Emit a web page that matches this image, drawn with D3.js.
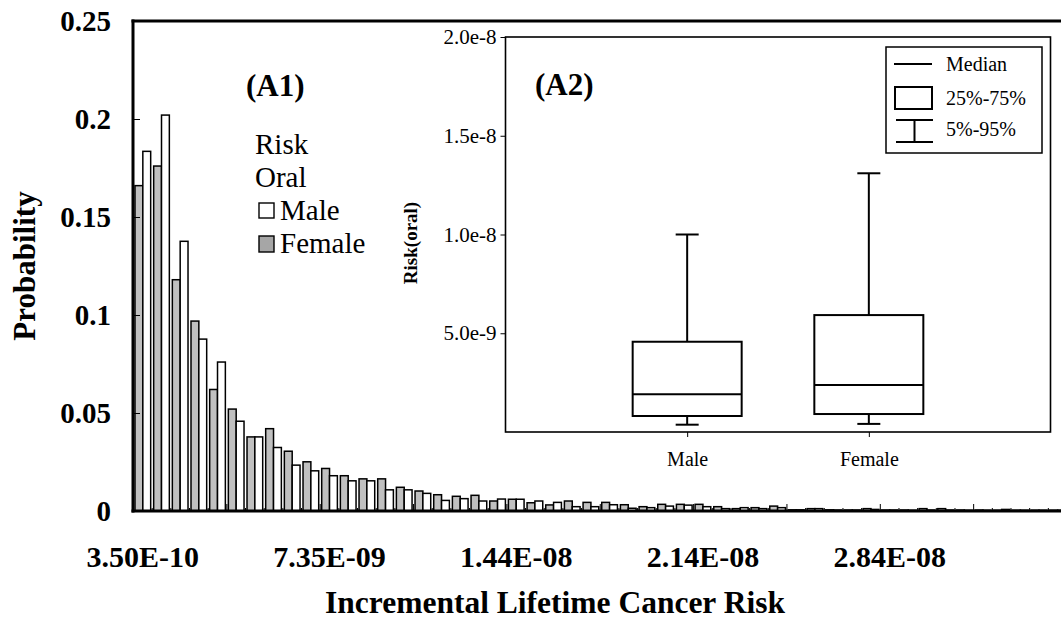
<!DOCTYPE html>
<html><head><meta charset="utf-8">
<script src="https://cdn.jsdelivr.net/npm/d3@7"></script>
<style>
body{margin:0;background:#fff}
svg{display:block}
text{font-family:"Liberation Serif","Times New Roman",serif;fill:#000}
</style>
</head><body>
<svg id="c" width="1061" height="624"></svg>
<script>
// ---- data ----
const categories = ["3.50E-10","1.05E-09","1.75E-09","2.45E-09","3.15E-09","3.85E-09","4.55E-09","5.25E-09","5.95E-09","6.65E-09",
"7.35E-09","8.05E-09","8.75E-09","9.45E-09","1.02E-08","1.09E-08","1.16E-08","1.23E-08","1.30E-08","1.37E-08",
"1.44E-08","1.51E-08","1.58E-08","1.65E-08","1.72E-08","1.79E-08","1.86E-08","1.93E-08","2.00E-08","2.07E-08",
"2.14E-08","2.21E-08","2.28E-08","2.35E-08","2.42E-08","2.49E-08","2.56E-08","2.63E-08","2.70E-08","2.77E-08",
"2.84E-08","2.91E-08","2.98E-08","3.05E-08","3.12E-08","3.19E-08","3.26E-08","3.33E-08","3.40E-08","3.47E-08"];
const female = [0.166,0.176,0.118,0.0969,0.062,0.052,0.0378,0.042,0.0305,0.0251,
0.0217,0.018,0.0164,0.0164,0.0121,0.0102,0.0083,0.0075,0.008,0.0051,
0.006,0.0042,0.0031,0.0051,0.0044,0.0044,0.0032,0.0022,0.0034,0.0034,
0.0034,0.0022,0.0012,0.0017,0.0025,0.0006,0.0012,0.0006,0.0005,0.0012,
0.0005,0.0005,0.0012,0.0012,0.0005,0.0005,0.0004,0.0004,0.0004,0.0004];
const male = [0.1835,0.202,0.1376,0.0877,0.076,0.0458,0.0378,0.0324,0.0234,0.0205,
0.018,0.0154,0.0154,0.0108,0.0108,0.009,0.0054,0.0063,0.0051,0.0061,
0.006,0.0051,0.0044,0.0022,0.0022,0.0032,0.0014,0.0017,0.0025,0.003,
0.0022,0.0012,0.0017,0.0012,0.0017,0.0006,0.0012,0.0005,0.0005,0.0008,
0.0005,0.0004,0.0005,0.0005,0.0004,0.0004,0.0008,0.0004,0.0004,0.0004];
const xTickLabels = ["3.50E-10","7.35E-09","1.44E-08","2.14E-08","2.84E-08"];
const yTicks = [0,0.05,0.1,0.15,0.2,0.25];
const yTickLabels = ["0","0.05","0.1","0.15","0.2","0.25"];

// inset box plot data
const boxGroups = ["Male","Female"];
const p5 =     [0.37e-9, 0.41e-9];
const q1 =     [0.81e-9, 0.91e-9];
const median = [1.91e-9, 2.38e-9];
const q3 =     [4.57e-9, 5.92e-9];
const p95 =    [1.0e-8, 1.31e-8];
const insetYTicks = [5e-9,1e-8,1.5e-8,2e-8];
const insetYTickLabels = ["5.0e-9","1.0e-8","1.5e-8","2.0e-8"];

// ---- drawing ----
const svg = d3.select("#c");
svg.append("rect").attr("width",1061).attr("height",624).attr("fill","#fff");

const L = 133, T = 21, B = 511, Rvis = 1061;
const step = 18.67;
const y = d3.scaleLinear().domain([0,0.25]).range([B,T]);
const x = d3.scaleBand().domain(categories).range([L+0.5, L+0.5+categories.length*step])
  .paddingInner(0.16).paddingOuter(0.08);
const bw = x.bandwidth()/2;

const bars = svg.append("g");
categories.forEach((c,i)=>{
  bars.append("rect").attr("x",x(c)).attr("y",y(female[i])).attr("width",bw).attr("height",B-y(female[i]))
    .attr("fill","#c0c0c0").attr("stroke","#000").attr("stroke-width",1.5);
  bars.append("rect").attr("x",x(c)+bw).attr("y",y(male[i])).attr("width",bw).attr("height",B-y(male[i]))
    .attr("fill","#fff").attr("stroke","#000").attr("stroke-width",1.5);
});

// category boundary ticks
const gapHalf = x.step()*x.paddingInner()/2;
categories.forEach((c,k)=>{
  if(k===0) return;
  const px = x(c)-gapHalf;
  svg.append("line").attr("x1",px).attr("x2",px).attr("y1",B).attr("y2",B-(k%5===0?7:3))
    .attr("stroke","#000").attr("stroke-width",1);
});

// y axis
const ya = svg.append("g").attr("transform",`translate(${L},0)`)
  .call(d3.axisLeft(y).tickValues(yTicks).tickFormat((d,i)=>yTickLabels[i]).tickSize(-7).tickPadding(22));
ya.select(".domain").remove();
ya.selectAll("text").attr("font-family","Liberation Serif").attr("font-weight","bold").attr("font-size",29);
ya.selectAll("line").attr("stroke-width",1);

// x axis labels
const xa = svg.append("g").attr("transform",`translate(0,${B})`)
  .call(d3.axisBottom(x).tickValues(xTickLabels).tickSize(0).tickPadding(35));
xa.select(".domain").remove();
xa.selectAll("text").attr("font-family","Liberation Serif").attr("font-weight","bold").attr("font-size",30);

// frame lines
svg.append("line").attr("x1",L).attr("x2",L).attr("y1",T-1.5).attr("y2",B+1.5).attr("stroke","#000").attr("stroke-width",3);
svg.append("line").attr("x1",L-1.5).attr("x2",Rvis).attr("y1",B).attr("y2",B).attr("stroke","#000").attr("stroke-width",3);
svg.append("line").attr("x1",L-1.5).attr("x2",Rvis).attr("y1",T).attr("y2",T).attr("stroke","#000").attr("stroke-width",3);

// axis titles
svg.append("text").attr("x",555).attr("y",613).attr("text-anchor","middle")
  .attr("font-weight","bold").attr("font-size",31.5).text("Incremental Lifetime Cancer Risk");
svg.append("text").attr("transform","translate(35,266) rotate(-90)").attr("text-anchor","middle")
  .attr("font-weight","bold").attr("font-size",31).text("Probability");

// A1 label & legend
svg.append("text").attr("x",246).attr("y",96).attr("font-weight","bold").attr("font-size",31).text("(A1)");
svg.append("text").attr("x",255).attr("y",154).attr("font-size",29).text("Risk");
svg.append("text").attr("x",255).attr("y",187).attr("font-size",29).text("Oral");
svg.append("rect").attr("x",259).attr("y",203).attr("width",15).attr("height",15).attr("fill","#fff").attr("stroke","#000").attr("stroke-width",1.4);
svg.append("text").attr("x",280).attr("y",220).attr("font-size",29).text("Male");
svg.append("rect").attr("x",259).attr("y",236).attr("width",15).attr("height",16).attr("fill","#a6a6a6").attr("stroke","#000").attr("stroke-width",1.4);
svg.append("text").attr("x",280).attr("y",253).attr("font-size",29).text("Female");

// ---- inset ----
const iL = 505.5, iR = 1050.5, iT = 37, iB = 432;
svg.append("rect").attr("x",iL).attr("y",iT).attr("width",iR-iL).attr("height",iB-iT)
  .attr("fill","#fff").attr("stroke","#000").attr("stroke-width",1.6);
const iy = d3.scaleLinear().domain([0,2e-8]).range([iB,iT]);
const ix = d3.scalePoint().domain(boxGroups).range([iL,iR]).padding(1);

const iya = svg.append("g").attr("transform",`translate(${iL},0)`)
  .call(d3.axisLeft(iy).tickValues(insetYTicks).tickFormat((d,i)=>insetYTickLabels[i]).tickSize(5).tickPadding(4));
iya.select(".domain").remove();
iya.selectAll("text").attr("font-family","Liberation Serif").attr("font-size",21);
const ixa = svg.append("g").attr("transform",`translate(0,${iB})`)
  .call(d3.axisBottom(ix).tickSize(5).tickPadding(15));
ixa.select(".domain").remove();
ixa.selectAll("text").attr("font-family","Liberation Serif").attr("font-size",20);

svg.append("text").attr("transform","translate(417,243) rotate(-90)").attr("text-anchor","middle")
  .attr("font-weight","bold").attr("font-size",19).text("Risk(oral)");
svg.append("text").attr("x",535).attr("y",95).attr("font-weight","bold").attr("font-size",31).text("(A2)");

const boxW = 109, capW = 23;
const bx = svg.append("g").attr("stroke","#000").attr("stroke-width",2).attr("fill","none");
boxGroups.forEach((g,i)=>{
  const cx = ix(g);
  bx.append("line").attr("x1",cx).attr("x2",cx).attr("y1",iy(p95[i])).attr("y2",iy(q3[i]));
  bx.append("line").attr("x1",cx).attr("x2",cx).attr("y1",iy(q1[i])).attr("y2",iy(p5[i]));
  bx.append("line").attr("x1",cx-capW/2).attr("x2",cx+capW/2).attr("y1",iy(p5[i])).attr("y2",iy(p5[i]));
  bx.append("line").attr("x1",cx-capW/2).attr("x2",cx+capW/2).attr("y1",iy(p95[i])).attr("y2",iy(p95[i]));
  bx.append("rect").attr("x",cx-boxW/2).attr("y",iy(q3[i])).attr("width",boxW).attr("height",iy(q1[i])-iy(q3[i]));
  bx.append("line").attr("x1",cx-boxW/2).attr("x2",cx+boxW/2).attr("y1",iy(median[i])).attr("y2",iy(median[i]));
});

// inset legend
svg.append("rect").attr("x",886).attr("y",47).attr("width",156).attr("height",106)
  .attr("fill","#fff").attr("stroke","#000").attr("stroke-width",1.5);
const lg = svg.append("g").attr("stroke","#000").attr("stroke-width",2).attr("fill","none");
lg.append("line").attr("x1",894).attr("x2",932).attr("y1",64).attr("y2",64);
lg.append("rect").attr("x",895).attr("y",87).attr("width",37).attr("height",22);
lg.append("line").attr("x1",896).attr("x2",933).attr("y1",120).attr("y2",120);
lg.append("line").attr("x1",896).attr("x2",933).attr("y1",142).attr("y2",142);
lg.append("line").attr("x1",914.5).attr("x2",914.5).attr("y1",120).attr("y2",142);
svg.append("text").attr("x",946).attr("y",71).attr("font-size",20).text("Median");
svg.append("text").attr("x",946).attr("y",105).attr("font-size",20).text("25%-75%");
svg.append("text").attr("x",946).attr("y",136).attr("font-size",20).text("5%-95%");
</script>
</body></html>
